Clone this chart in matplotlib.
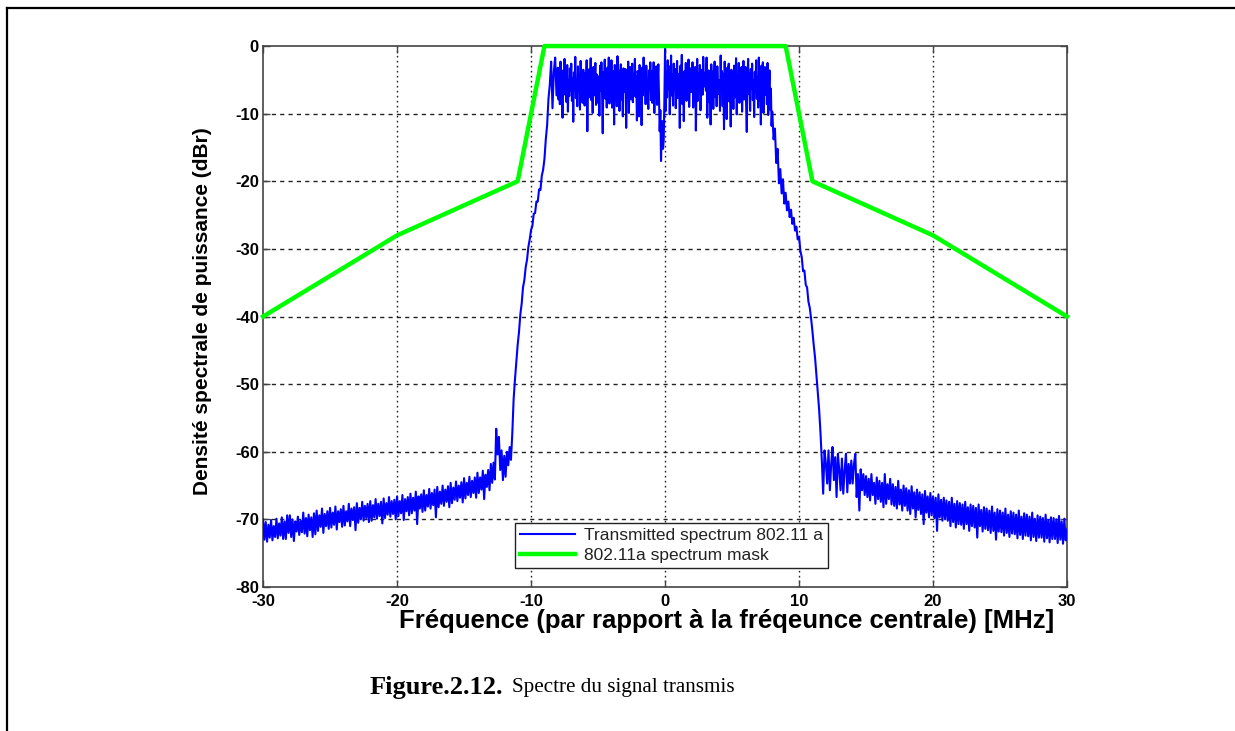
# -*- coding: utf-8 -*-
#
#   Spectre du signal transmis (802.11a) avec masque spectral.
#

import matplotlib
matplotlib.use('Agg')
import matplotlib.pyplot as plt
from matplotlib.lines import Line2D
import numpy as np

# first frequency of the measured spectrum [MHz]; every row below covers
# 1 MHz, its values are evenly spaced over that MHz
freq_start = -30

psd_rows = [
    [-70.0, -73.0, -70.4, -73.3, -70.8, -72.7, -70.1, -73.1, -71.0, -72.6],  # -30
    [-69.9, -72.8, -70.6, -72.4, -69.7, -72.9, -70.3, -72.9, -69.4, -72.0],
    [-69.4, -72.6, -70.0, -73.2, -70.3, -71.8, -69.6, -72.3, -70.2, -71.9],
    [-69.0, -72.1, -69.8, -72.5, -69.3, -71.6, -69.7, -72.6, -69.1, -72.2],
    [-68.7, -71.7, -69.4, -71.1, -68.4, -72.0, -69.2, -71.0, -68.8, -71.4],
    [-68.3, -71.2, -69.0, -70.8, -68.1, -71.5, -68.8, -70.4, -68.5, -71.1],  # -25
    [-68.0, -70.9, -68.8, -70.3, -67.7, -71.0, -68.4, -70.1, -68.2, -71.6],
    [-67.6, -70.5, -68.3, -70.0, -67.4, -70.2, -68.0, -69.8, -67.7, -70.4],
    [-67.3, -70.2, -67.9, -69.7, -67.0, -69.9, -67.7, -69.5, -67.4, -70.6],
    [-66.9, -69.8, -67.6, -69.3, -66.7, -69.6, -67.3, -69.2, -67.1, -70.0],
    [-66.6, -69.5, -67.3, -69.1, -66.4, -70.1, -67.0, -68.8, -66.7, -69.4],  # -20
    [-66.2, -69.1, -66.8, -68.7, -65.9, -70.7, -66.6, -68.4, -66.3, -68.9],
    [-65.7, -68.7, -66.4, -68.1, -65.5, -68.4, -66.1, -67.9, -65.6, -69.7],
    [-65.2, -68.2, -65.9, -67.7, -65.0, -68.0, -65.6, -67.4, -65.1, -68.2],
    [-64.6, -67.6, -65.3, -67.1, -64.4, -67.3, -65.0, -66.8, -64.5, -67.5],
    [-63.9, -66.9, -64.6, -66.4, -63.7, -66.7, -64.3, -66.1, -63.8, -66.8],  # -15
    [-63.1, -66.1, -63.8, -65.6, -62.8, -67.0, -63.4, -65.2, -62.7, -65.7],
    [-61.8, -64.6, -61.6, -64.1, -56.6, -60.4, -57.8, -62.7, -59.8, -64.2],
    [-60.6, -63.7, -60.0, -62.0, -59.3, -61.2, -57.3, -52.2, -49.3, -46.7],
    [-44.2, -42.3, -39.7, -38.1, -35.7, -34.6, -32.7, -31.6, -29.7, -28.6],
    [-27.2, -26.6, -24.8, -24.7, -23.0, -23.0, -21.2, -21.3, -19.2, -18.3],  # -10
    [-16.7, -13.8, -11.7, -7.8, -5.7, -2.3, -9.2, -3.8, -1.7, -7.3],
    [-3.2, -7.9, -4.1, -8.6, -2.3, -6.8, -4.9, -10.6, -3.6, -7.2,
     -1.9, -6.1, -4.4, -8.3, -2.8, -9.7, -5.0, -7.4, -3.3, -6.6],
    [-2.6, -8.1, -4.7, -11.2, -3.9, -6.4, -1.6, -7.7, -5.2, -8.9,
     -3.0, -6.0, -4.3, -9.4, -2.2, -7.0, -5.6, -8.4, -3.5, -6.9],
    [-8.8, -4.0, -6.3, -2.1, -12.6, -5.1, -7.6, -3.4, -6.2, -1.8,
     -8.0, -4.6, -9.9, -3.1, -7.3, -5.4, -2.5, -8.7, -4.2, -6.7],
    [-8.4, -4.5, -10.3, -2.9, -6.6, -2.4, -7.1, -12.9, -3.9, -5.9,
     -2.0, -7.8, -4.8, -9.1, -3.2, -6.3, -1.7, -8.5, -5.3, -7.0],  # -5
    [-2.1, -9.1, -5.3, -3.7, -11.6, -2.8, -7.6, -4.4, -8.9, -1.5,
     -6.4, -3.6, -9.6, -4.9, -2.7, -7.9, -5.1, -10.4, -3.3, -6.8],
    [-6.1, -3.4, -12.1, -4.7, -7.1, -2.3, -9.9, -4.9, -3.1, -7.9,
     -5.6, -2.6, -8.3, -4.0, -6.9, -1.9, -7.5, -4.5, -11.0, -3.7],
    [-4.3, -10.4, -2.8, -6.4, -5.1, -11.7, -3.2, -7.3, -1.7, -6.1,
     -4.6, -8.6, -2.9, -7.0, -5.5, -9.3, -3.6, -6.5, -2.4, -8.0],
    [-3.7, -8.4, -5.3, -2.4, -9.9, -4.4, -7.1, -3.0, -8.7, -5.0,
     -2.7, -7.6, -12.6, -9.5, -17.0, -13.0, -11.1, -15.2, -13.9, -8.0],
    [-0.4, -9.6, -3.9, -7.6, -2.1, -6.3, -3.0, -10.1, -5.4, -1.4,
     -7.3, -4.2, -8.8, -2.6, -6.0, -3.4, -9.2, -5.0, -2.2, -7.7],  # 0
    [-7.1, -4.1, -12.1, -2.9, -6.9, -1.3, -8.6, -4.9, -11.1, -3.7,
     -6.5, -2.5, -8.1, -4.4, -7.4, -2.0, -9.0, -5.2, -3.3, -6.8],
    [-6.3, -2.4, -9.1, -4.7, -7.6, -3.1, -12.5, -5.6, -1.9, -8.1,
     -4.0, -6.6, -2.8, -9.5, -5.0, -3.5, -7.2, -1.6, -6.0, -4.3],
    [-3.9, -6.6, -1.7, -10.6, -4.9, -3.6, -8.3, -4.2, -11.6, -2.7,
     -6.8, -3.8, -9.3, -5.2, -2.3, -7.5, -4.6, -8.9, -3.0, -6.2],
    [-7.1, -5.1, -9.6, -1.4, -6.1, -3.7, -8.9, -4.1, -12.3, -2.3,
     -7.0, -4.8, -10.8, -3.2, -6.4, -2.6, -8.2, -5.5, -11.9, -3.5],
    [-6.9, -3.9, -9.3, -2.9, -7.6, -5.4, -1.8, -10.1, -4.4, -6.6,
     -2.5, -8.4, -4.7, -7.1, -3.1, -9.7, -5.8, -2.2, -7.9, -4.2],  # 5
    [-3.1, -8.6, -12.7, -4.9, -1.9, -7.1, -4.1, -9.6, -3.4, -6.3,
     -2.6, -8.0, -5.1, -10.5, -3.8, -6.9, -2.1, -7.8, -4.6, -9.1],
    [-1.7, -8.1, -4.7, -11.6, -2.9, -6.6, -2.4, -9.9, -5.1, -3.1,
     -7.2, -4.3, -8.6, -2.5, -10.2, -5.9, -3.6, -9.4, -6.3, -11.8],
    [-9.7, -13.8, -12.2, -17.3, -15.2, -20.3, -18.2, -21.8, -19.7, -23.3],
    [-21.7, -24.3, -23.0, -25.3, -24.2, -26.3, -25.4, -27.3, -26.7, -28.6],
    [-28.2, -30.3, -31.2, -33.3, -33.2, -35.3, -35.7, -37.8, -38.7, -40.3],  # 10
    [-42.2, -44.3, -46.2, -48.8, -51.2, -53.8, -57.2, -61.3, -66.2, -59.8],
    [-61.7, -64.7, -59.8, -65.7, -61.8, -59.3, -64.2, -60.8, -66.7, -60.3],
    [-62.7, -65.7, -61.0, -66.2, -62.8, -60.3, -66.0, -61.8, -64.7, -61.3],
    [-64.7, -61.8, -60.3, -66.7, -63.3, -68.7, -62.6, -65.7, -63.3, -66.4],
    [-63.6, -66.7, -64.0, -67.2, -63.3, -66.4, -64.6, -67.7, -63.8, -67.0],  # 15
    [-64.3, -67.4, -64.6, -68.2, -63.3, -67.7, -64.8, -67.0, -64.0, -67.8],
    [-64.8, -68.0, -65.2, -68.4, -64.3, -67.8, -65.6, -68.7, -65.0, -68.0],
    [-65.4, -68.7, -65.7, -69.2, -65.1, -68.4, -66.0, -69.7, -65.6, -68.6],
    [-66.0, -69.2, -66.3, -70.7, -65.8, -69.0, -66.6, -69.7, -66.1, -69.4],
    [-66.6, -69.8, -66.8, -71.7, -66.3, -69.7, -67.1, -70.2, -66.8, -70.0],  # 20
    [-67.2, -70.2, -67.4, -71.0, -66.8, -70.4, -67.7, -71.2, -67.3, -70.7],
    [-67.6, -70.8, -67.8, -71.4, -67.4, -70.7, -68.2, -71.7, -67.8, -71.0],
    [-68.0, -71.2, -68.3, -72.7, -67.8, -71.0, -68.6, -71.8, -68.2, -71.4],
    [-68.4, -71.6, -68.7, -72.0, -68.1, -71.7, -69.0, -73.0, -68.5, -71.8],
    [-68.7, -71.9, -69.0, -72.4, -68.4, -72.0, -69.3, -72.6, -68.8, -72.1],  # 25
    [-69.0, -72.2, -69.3, -72.8, -68.7, -72.3, -69.6, -72.9, -69.1, -72.4],
    [-69.3, -72.5, -69.6, -73.1, -69.0, -72.6, -69.9, -73.2, -69.4, -72.7],
    [-69.6, -72.7, -69.8, -73.3, -69.3, -72.8, -70.1, -73.4, -69.7, -72.9],
    [-69.8, -72.9, -70.0, -73.5, -69.5, -73.0, -70.3, -73.6, -69.9, -73.1],
    [-71.5],  # 30
]

# 802.11a spectrum mask
mask_freq = [-30, -20, -11, -9, 9, 11, 20, 30]
mask_level = [-40, -28, -20, 0, 0, -20, -28, -40]

x_ticks = [-30, -20, -10, 0, 10, 20, 30]
y_ticks = [0, -10, -20, -30, -40, -50, -60, -70, -80]

label_spectrum = 'Transmitted spectrum 802.11 a'
label_mask = '802.11a spectrum mask'
x_label = u'Fréquence (par rapport à la fréqeunce centrale) [MHz]'
y_label = u'Densité spectrale de puissance (dBr)'


def spectrum_arrays():
    """
    Flatten the per-MHz rows into frequency and PSD arrays.
    """

    freq = []
    psd = []
    for k, row in enumerate(psd_rows):
        n = len(row)
        freq.extend(freq_start + k + np.arange(n) / float(n))
        psd.extend(row)

    return np.array(freq), np.array(psd)


def plot_spectrum(prefix):
    """
    Plot the transmitted spectrum together with the spectrum mask.
    """

    freq, psd = spectrum_arrays()

    plt.rcParams['axes.unicode_minus'] = False

    fig = plt.figure(figsize=(12.35, 7.31), dpi=100)
    ax = fig.add_axes([0.213, 0.197, 0.651, 0.740])

    ax.plot(freq, psd, color='#0000ff', lw=1.5, label=label_spectrum,
            zorder=3)
    ax.plot(mask_freq, mask_level, color='#00ff00', lw=3.2,
            label=label_mask, zorder=4, clip_on=False)

    ax.set_xlim(-30, 30)
    ax.set_ylim(-80, 0)
    ax.set_xticks(x_ticks)
    ax.set_yticks(y_ticks)

    # matlab style grid
    for xv in x_ticks[1:-1]:
        ax.axvline(xv, color='#222222', lw=1.0, ls=(0, (1.2, 2.4)), zorder=1)
    for yv in y_ticks[1:-1]:
        ax.axhline(yv, color='#222222', lw=1.0, ls=(0, (3, 3)), zorder=1)

    for sp in ax.spines.values():
        sp.set_color('#444444')
        sp.set_linewidth(1.2)

    ax.tick_params(direction='in', length=5, width=1, color='#444444',
                   top=True, right=True)
    ax.tick_params(axis='x', pad=5)
    ax.tick_params(axis='y', pad=3)
    for lab in ax.get_xticklabels() + ax.get_yticklabels():
        lab.set_fontfamily('Liberation Sans')
        lab.set_fontweight('bold')
        lab.set_fontsize(12)

    ax.set_xlabel(x_label, fontfamily='Liberation Sans', fontweight='bold',
                  fontsize=18.5)
    ax.xaxis.set_label_coords(0.577, -0.040)
    ax.set_ylabel(y_label, fontfamily='Liberation Sans', fontweight='bold',
                  fontsize=15)
    ax.yaxis.set_label_coords(-0.064, 0.51)

    leg = ax.legend(loc='lower left', bbox_to_anchor=(0.313, 0.035),
                    borderaxespad=0.0, fancybox=False, framealpha=1,
                    edgecolor='#222222', borderpad=0.3, labelspacing=0.25,
                    handlelength=3.2, handletextpad=0.5,
                    prop={'family': 'Liberation Sans', 'size': 12.5})
    leg.get_frame().set_linewidth(1.0)
    for txt in leg.get_texts():
        txt.set_color('#222222')

    # caption
    fig.text(0.2996, 0.060, 'Figure.2.12.', fontfamily='Liberation Serif',
             fontweight='bold', fontsize=19, ha='left', va='center')
    fig.text(0.4145, 0.060, 'Spectre du signal transmis',
             fontfamily='Liberation Serif', fontsize=15.2, ha='left',
             va='center')

    # page frame
    fig.add_artist(Line2D([0.0057, 0.0057], [0.0, 0.989], color='black',
                          lw=1.6, transform=fig.transFigure))
    fig.add_artist(Line2D([0.0057, 1.0], [0.989, 0.989], color='black',
                          lw=1.6, transform=fig.transFigure))

    fig.savefig('{0}.png'.format(prefix), dpi=100)
    plt.close(fig)


def main():
    plot_spectrum('out')


if __name__ == "__main__":
    main()
